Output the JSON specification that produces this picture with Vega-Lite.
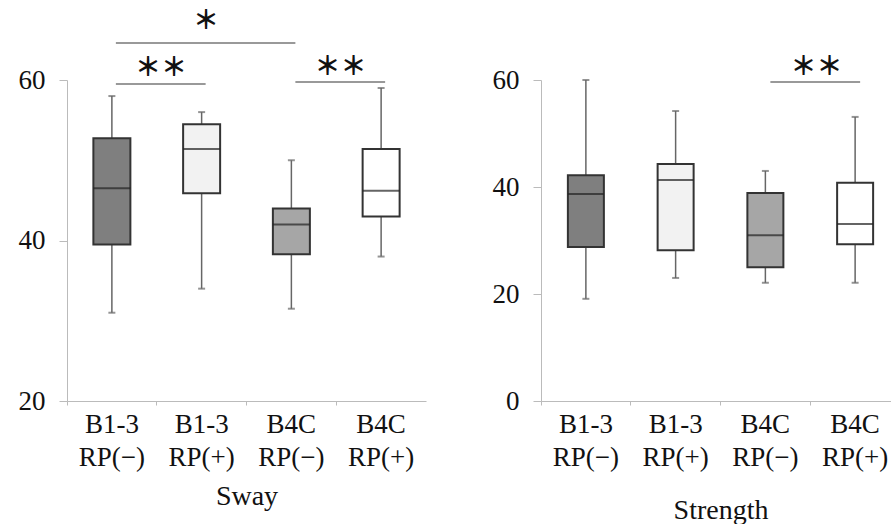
{
  "$schema": "https://vega.github.io/schema/vega-lite/v6.json",
  "background": "white",
  "padding": {"left": 18, "top": 8, "right": 0, "bottom": 0},
  "spacing": 66,
  "config": {
    "view": {"stroke": null},
    "font": "Liberation Serif, Times New Roman, DejaVu Serif, serif",
    "axisX": {
      "domainColor": "#bbbbbb", "tickColor": "#bbbbbb", "tickSize": 4, "bandPosition": 0,
      "labelAngle": 0, "labelFont": "Liberation Serif, Times New Roman, DejaVu Serif, serif", "labelFontSize": 27, "labelLineHeight": 33,
      "labelPadding": 6, "labelColor": "#111111", "labelExpr": "split(datum.label, ' ')",
      "titleFont": "Liberation Serif, Times New Roman, DejaVu Serif, serif", "titleFontSize": 28, "titleFontWeight": "normal", "titleColor": "#111111"
    },
    "axisY": {
      "grid": false, "domainColor": "#bbbbbb", "tickColor": "#bbbbbb", "tickSize": 8,
      "labelFont": "Liberation Serif, Times New Roman, DejaVu Serif, serif", "labelFontSize": 27, "labelPadding": 14, "labelColor": "#111111"
    }
  },
  "datasets": {
    "sway": [
      {"group": "B1-3 RP(−)", "min": 31, "q1": 39.5, "median": 46.5, "q3": 52.75, "max": 58},
      {"group": "B1-3 RP(+)", "min": 34, "q1": 45.9, "median": 51.4, "q3": 54.5, "max": 56},
      {"group": "B4C RP(−)", "min": 31.5, "q1": 38.3, "median": 42, "q3": 44, "max": 50},
      {"group": "B4C RP(+)", "min": 38, "q1": 43, "median": 46.2, "q3": 51.4, "max": 59}
    ],
    "strength": [
      {"group": "B1-3 RP(−)", "min": 19.1, "q1": 28.8, "median": 38.7, "q3": 42.2, "max": 60},
      {"group": "B1-3 RP(+)", "min": 23, "q1": 28.2, "median": 41.3, "q3": 44.3, "max": 54.2},
      {"group": "B4C RP(−)", "min": 22.1, "q1": 25, "median": 31, "q3": 38.9, "max": 43},
      {"group": "B4C RP(+)", "min": 22.1, "q1": 29.3, "median": 33.1, "q3": 40.8, "max": 53.1}
    ],
    "swaySig": [
      {"from": "B1-3 RP(−)", "to": "B4C RP(−)", "y": 64.6, "ty": 67.3, "label": "＊", "span": 2},
      {"from": "B1-3 RP(−)", "to": "B1-3 RP(+)", "y": 59.5, "ty": 61.45, "label": "＊＊", "span": 1},
      {"from": "B4C RP(−)", "to": "B4C RP(+)", "y": 59.75, "ty": 61.6, "label": "＊＊", "span": 1}
    ],
    "strengthSig": [
      {"from": "B4C RP(−)", "to": "B4C RP(+)", "y": 59.63, "ty": 62.4, "label": "＊＊", "span": 1}
    ]
  },
  "hconcat": [
    {
      "width": 359,
      "height": 321,
      "encoding": {
        "x": {"field": "group", "type": "nominal", "title": "Sway",
              "scale": {"domain": ["B1-3 RP(−)", "B1-3 RP(+)", "B4C RP(−)", "B4C RP(+)"], "paddingInner": 0, "paddingOuter": 0},
              "axis": {"titlePadding": 12}}
      },
      "layer": [
        {
          "data": {"name": "sway"},
          "mark": {"type": "rule", "color": "#666666", "strokeWidth": 1.5},
          "encoding": {
            "y": {"field": "min", "type": "quantitative", "title": null, "scale": {"domain": [20, 60]}, "axis": {"values": [20, 40, 60]}},
            "y2": {"field": "max"}
          }
        },
        {
          "data": {"name": "sway"},
          "mark": {"type": "tick", "color": "#666666", "size": 7, "thickness": 2},
          "encoding": {"y": {"field": "max", "type": "quantitative"}}
        },
        {
          "data": {"name": "sway"},
          "mark": {"type": "tick", "color": "#666666", "size": 7, "thickness": 2},
          "encoding": {"y": {"field": "min", "type": "quantitative"}}
        },
        {
          "data": {"name": "sway"},
          "mark": {"type": "bar", "size": 37, "stroke": "#333333", "strokeWidth": 2},
          "encoding": {
            "y": {"field": "q1", "type": "quantitative"},
            "y2": {"field": "q3"},
            "fill": {"field": "group", "type": "nominal", "legend": null,
                     "scale": {"domain": ["B1-3 RP(−)", "B1-3 RP(+)", "B4C RP(−)", "B4C RP(+)"], "range": ["#7f7f7f", "#f2f2f2", "#a6a6a6", "#ffffff"]}}
          }
        },
        {
          "data": {"name": "sway"},
          "mark": {"type": "tick", "color": "#222222", "size": 37, "thickness": 2},
          "encoding": {"y": {"field": "median", "type": "quantitative"}}
        },
        {
          "data": {"name": "swaySig"},
          "mark": {"type": "rule", "color": "#777777", "strokeWidth": 1.5, "xOffset": 4, "x2Offset": 4},
          "encoding": {
            "x": {"field": "from", "type": "nominal"},
            "x2": {"field": "to"},
            "y": {"field": "y", "type": "quantitative"}
          }
        },
        {
          "data": {"name": "swaySig"},
          "transform": [{"filter": "datum.span == 1"}],
          "mark": {"type": "text", "font": "Noto Sans CJK JP", "fontSize": 26, "fontWeight": "bold", "color": "#111111", "baseline": "middle", "dx": 49},
          "encoding": {
            "x": {"field": "from", "type": "nominal"},
            "y": {"field": "ty", "type": "quantitative"},
            "text": {"field": "label"}
          }
        },
        {
          "data": {"name": "swaySig"},
          "transform": [{"filter": "datum.span == 2"}],
          "mark": {"type": "text", "font": "Noto Sans CJK JP", "fontSize": 26, "fontWeight": "bold", "color": "#111111", "baseline": "middle", "dx": 94},
          "encoding": {
            "x": {"field": "from", "type": "nominal"},
            "y": {"field": "ty", "type": "quantitative"},
            "text": {"field": "label"}
          }
        }
      ]
    },
    {
      "width": 359,
      "height": 321,
      "encoding": {
        "x": {"field": "group", "type": "nominal", "title": "Strength",
              "scale": {"domain": ["B1-3 RP(−)", "B1-3 RP(+)", "B4C RP(−)", "B4C RP(+)"], "paddingInner": 0, "paddingOuter": 0},
              "axis": {"titlePadding": 26}}
      },
      "layer": [
        {
          "data": {"name": "strength"},
          "mark": {"type": "rule", "color": "#666666", "strokeWidth": 1.5},
          "encoding": {
            "y": {"field": "min", "type": "quantitative", "title": null, "scale": {"domain": [0, 60]}, "axis": {"values": [0, 20, 40, 60]}},
            "y2": {"field": "max"}
          }
        },
        {
          "data": {"name": "strength"},
          "mark": {"type": "tick", "color": "#666666", "size": 7, "thickness": 2},
          "encoding": {"y": {"field": "max", "type": "quantitative"}}
        },
        {
          "data": {"name": "strength"},
          "mark": {"type": "tick", "color": "#666666", "size": 7, "thickness": 2},
          "encoding": {"y": {"field": "min", "type": "quantitative"}}
        },
        {
          "data": {"name": "strength"},
          "mark": {"type": "bar", "size": 36, "stroke": "#333333", "strokeWidth": 2},
          "encoding": {
            "y": {"field": "q1", "type": "quantitative"},
            "y2": {"field": "q3"},
            "fill": {"field": "group", "type": "nominal", "legend": null,
                     "scale": {"domain": ["B1-3 RP(−)", "B1-3 RP(+)", "B4C RP(−)", "B4C RP(+)"], "range": ["#7f7f7f", "#f2f2f2", "#a6a6a6", "#ffffff"]}}
          }
        },
        {
          "data": {"name": "strength"},
          "mark": {"type": "tick", "color": "#222222", "size": 36, "thickness": 2},
          "encoding": {"y": {"field": "median", "type": "quantitative"}}
        },
        {
          "data": {"name": "strengthSig"},
          "mark": {"type": "rule", "color": "#777777", "strokeWidth": 1.5, "xOffset": 5, "x2Offset": 5},
          "encoding": {
            "x": {"field": "from", "type": "nominal"},
            "x2": {"field": "to"},
            "y": {"field": "y", "type": "quantitative"}
          }
        },
        {
          "data": {"name": "strengthSig"},
          "mark": {"type": "text", "font": "Noto Sans CJK JP", "fontSize": 26, "fontWeight": "bold", "color": "#111111", "baseline": "middle", "dx": 51},
          "encoding": {
            "x": {"field": "from", "type": "nominal"},
            "y": {"field": "ty", "type": "quantitative"},
            "text": {"field": "label"}
          }
        }
      ]
    }
  ]
}
